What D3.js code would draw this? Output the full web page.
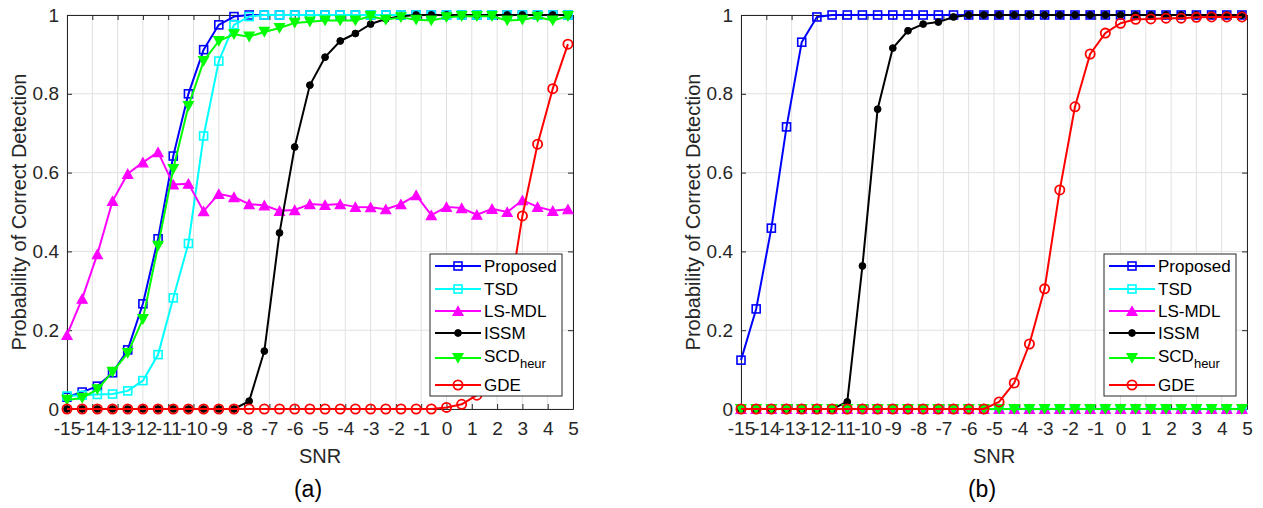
<!DOCTYPE html>
<html>
<head>
<meta charset="utf-8">
<script src="https://cdn.jsdelivr.net/npm/d3@7/dist/d3.min.js"></script>
<style>
  html, body { margin: 0; padding: 0; background: #fff; }
  svg { display: block; font-family: "Liberation Sans", Arial, Helvetica, sans-serif; }
</style>
</head>
<body>
<svg id="fig" width="1263" height="508"></svg>
<script>
// SNR grid (dB) shared by every curve
const snr = [-15, -14.4, -13.8, -13.2, -12.6, -12.0, -11.4, -10.8, -10.2, -9.6,
             -9.0, -8.4, -7.8, -7.2, -6.6, -6.0, -5.4, -4.8, -4.2, -3.6,
             -3.0, -2.4, -1.8, -1.2, -0.6, 0, 0.6, 1.2, 1.8, 2.4,
             3.0, 3.6, 4.2, 4.8];

const xTicks = [-15, -14, -13, -12, -11, -10, -9, -8, -7, -6, -5, -4, -3, -2, -1, 0, 1, 2, 3, 4, 5];
const yTicks = [0, 0.2, 0.4, 0.6, 0.8, 1];

const methodNames = ["Proposed", "TSD", "LS-MDL", "ISSM", "SCD", "GDE"];

// Scenario (a)
const proposedA = [0.030, 0.043, 0.058, 0.092, 0.150, 0.267, 0.432, 0.642, 0.800, 0.912,
                   0.975, 0.996, 1, 1, 1, 1, 1, 1, 1, 1,
                   1, 1, 1, 1, 1, 1, 1, 1, 1, 1,
                   1, 1, 1, 1];
const tsdA = [0.033, 0.035, 0.037, 0.038, 0.046, 0.072, 0.138, 0.282, 0.420, 0.693,
              0.883, 0.975, 0.996, 1, 1, 1, 1, 1, 1, 1,
              1, 1, 1, 1, 1, 1, 1, 1, 1, 1,
              1, 1, 1, 1];
const lsmdlA = [0.188, 0.280, 0.393, 0.528, 0.597, 0.626, 0.652, 0.570, 0.572, 0.502,
                0.546, 0.538, 0.520, 0.517, 0.503, 0.505, 0.520, 0.518, 0.520, 0.513,
                0.512, 0.507, 0.520, 0.543, 0.492, 0.513, 0.510, 0.493, 0.508, 0.500,
                0.530, 0.513, 0.503, 0.507];
const issmA = [0, 0, 0, 0, 0, 0, 0, 0, 0, 0,
               0, 0, 0.020, 0.147, 0.447, 0.665, 0.822, 0.893, 0.934, 0.953,
               0.977, 0.990, 0.997, 1, 1, 1, 1, 1, 1, 1,
               1, 1, 1, 1];
const scdA = [0.023, 0.028, 0.050, 0.094, 0.142, 0.228, 0.414, 0.609, 0.769, 0.883,
              0.934, 0.951, 0.945, 0.957, 0.967, 0.980, 0.983, 0.986, 0.986, 0.986,
              0.997, 0.988, 0.994, 0.988, 0.986, 0.994, 0.997, 0.997, 0.997, 0.986,
              0.988, 0.995, 0.986, 0.997];
const gdeA = [0, 0, 0, 0, 0, 0, 0, 0, 0, 0,
              0, 0, 0, 0, 0, 0, 0, 0, 0, 0,
              0, 0, 0, 0, 0, 0.004, 0.012, 0.035, 0.110, 0.250,
              0.490, 0.672, 0.813, 0.926];

// Scenario (b)
const proposedB = [0.124, 0.254, 0.459, 0.716, 0.931, 0.995, 1, 1, 1, 1,
                   1, 1, 1, 1, 1, 1, 1, 1, 1, 1,
                   1, 1, 1, 1, 1, 1, 1, 1, 1, 1,
                   1, 1, 1, 1];
const tsdB = [0, 0, 0, 0, 0, 0, 0, 0, 0, 0,
              0, 0, 0, 0, 0, 0, 0, 0, 0, 0,
              0, 0, 0, 0, 0, 0, 0, 0, 0, 0,
              0, 0, 0, 0];
const lsmdlB = [0, 0, 0, 0, 0, 0, 0, 0, 0, 0,
                0, 0, 0, 0, 0, 0, 0, 0, 0, 0,
                0, 0, 0, 0, 0, 0, 0, 0, 0, 0,
                0, 0, 0, 0];
const issmB = [0, 0, 0, 0, 0, 0, 0, 0.018, 0.363, 0.761,
               0.916, 0.960, 0.977, 0.982, 0.995, 1, 1, 1, 1, 1,
               1, 1, 1, 1, 1, 1, 1, 1, 1, 1,
               1, 1, 1, 1];
const scdB = [0, 0, 0, 0, 0, 0, 0, 0, 0, 0,
              0, 0, 0, 0, 0, 0, 0, 0, 0, 0,
              0, 0, 0, 0, 0, 0, 0, 0, 0, 0,
              0, 0, 0, 0];
const gdeB = [0, 0, 0, 0, 0, 0, 0, 0, 0, 0,
              0, 0, 0, 0, 0, 0, 0, 0.018, 0.066, 0.165,
              0.305, 0.556, 0.767, 0.901, 0.954, 0.979, 0.989, 0.990, 0.992, 0.992,
              0.994, 0.995, 0.995, 0.995];

// Line colour and marker per method (plotting order = legend order)
const styles = [
  { color: "#0000ff", marker: "square" },
  { color: "#00ffff", marker: "square" },
  { color: "#ff00ff", marker: "triUp" },
  { color: "#000000", marker: "dot" },
  { color: "#00ff00", marker: "triDown" },
  { color: "#ff0000", marker: "circle" }
];

const panels = [
  { left: 67,  label: "(a)", series: [proposedA, tsdA, lsmdlA, issmA, scdA, gdeA] },
  { left: 741, label: "(b)", series: [proposedB, tsdB, lsmdlB, issmB, scdB, gdeB] }
];

const plotW = 506, plotTop = 15, plotBottom = 409;
const axisColor = "#262626";
const svg = d3.select("#fig");

function drawMarker(g, type, color, cx, cy) {
  if (type === "square") {
    const s = 8;
    g.append("rect").attr("x", cx - s / 2).attr("y", cy - s / 2)
      .attr("width", s).attr("height", s)
      .attr("fill", "none").attr("stroke", color).attr("stroke-width", 1.6);
  } else if (type === "circle") {
    g.append("circle").attr("cx", cx).attr("cy", cy).attr("r", 4.6)
      .attr("fill", "none").attr("stroke", color).attr("stroke-width", 1.8);
  } else if (type === "dot") {
    g.append("circle").attr("cx", cx).attr("cy", cy).attr("r", 3.4)
      .attr("fill", color).attr("stroke", color).attr("stroke-width", 1);
  } else {
    const w = 10, h = 9;
    const dir = type === "triUp" ? -1 : 1;
    const pts = [[cx, cy + dir * h / 2], [cx - w / 2, cy - dir * h / 2], [cx + w / 2, cy - dir * h / 2]];
    g.append("path").attr("d", "M" + pts.map(p => p.join(",")).join("L") + "Z")
      .attr("fill", color).attr("stroke", color).attr("stroke-width", 1.2)
      .attr("stroke-linejoin", "miter");
  }
}

panels.forEach(p => {
  const x = d3.scaleLinear().domain([-15, 5]).range([p.left, p.left + plotW]);
  const y = d3.scaleLinear().domain([0, 1]).range([plotBottom, plotTop]);
  const g = svg.append("g");

  // grid
  const grid = g.append("g");
  grid.selectAll("line.vx").data(xTicks).join("line")
    .attr("x1", d => x(d)).attr("x2", d => x(d)).attr("y1", plotTop).attr("y2", plotBottom)
    .attr("stroke", "#e1e1e1").attr("stroke-width", 1);
  grid.selectAll("line.hy").data(yTicks).join("line")
    .attr("y1", d => y(d)).attr("y2", d => y(d)).attr("x1", x(-15)).attr("x2", x(5))
    .attr("stroke", "#e1e1e1").attr("stroke-width", 1);

  // axes (ticks inward, mirrored on top/right)
  const styleAxis = sel => {
    sel.select(".domain").attr("stroke", axisColor).attr("stroke-width", 1);
    sel.selectAll(".tick line").attr("stroke", axisColor).attr("stroke-width", 1);
    sel.selectAll(".tick text").attr("fill", axisColor)
      .style("font-size", "19px").style("font-family", "Liberation Sans, Arial, sans-serif");
  };
  g.append("g").attr("transform", `translate(0,${plotBottom})`)
    .call(d3.axisBottom(x).tickValues(xTicks).tickFormat(d3.format("d"))
      .tickSizeInner(-5).tickSizeOuter(0).tickPadding(12.5))
    .call(styleAxis);
  g.append("g").attr("transform", `translate(0,${plotTop})`)
    .call(d3.axisTop(x).tickValues(xTicks).tickFormat("")
      .tickSizeInner(-5).tickSizeOuter(0))
    .call(styleAxis);
  g.append("g").attr("transform", `translate(${x(-15)},0)`)
    .call(d3.axisLeft(y).tickValues(yTicks).tickFormat(d3.format("~g"))
      .tickSizeInner(-5).tickSizeOuter(0).tickPadding(8))
    .call(styleAxis);
  g.append("g").attr("transform", `translate(${x(5)},0)`)
    .call(d3.axisRight(y).tickValues(yTicks).tickFormat("")
      .tickSizeInner(-5).tickSizeOuter(0))
    .call(styleAxis);
  g.selectAll(".tick text").each(function () {
    const t = d3.select(this); t.text(t.text().replace("−", "-"));
  });

  // curves
  const line = d3.line().x((d, i) => x(snr[i])).y(d => y(d));
  p.series.forEach((vals, k) => {
    const st = styles[k];
    const sg = g.append("g");
    sg.append("path").attr("d", line(vals)).attr("fill", "none")
      .attr("stroke", st.color).attr("stroke-width", 2).attr("stroke-linejoin", "round");
    vals.forEach((v, i) => drawMarker(sg, st.marker, st.color, x(snr[i]), y(v)));
  });

  // axis labels
  g.append("text").attr("x", (x(-15) + x(5)) / 2).attr("y", 463)
    .attr("text-anchor", "middle").attr("fill", axisColor)
    .style("font-size", "20px").text("SNR");
  g.append("text")
    .attr("transform", `translate(${p.left - 41},${(plotTop + plotBottom) / 2}) rotate(-90)`)
    .attr("text-anchor", "middle").attr("fill", axisColor)
    .style("font-size", "20px").text("Probability of Correct Detection");
  g.append("text").attr("x", (x(-15) + x(5)) / 2 - 12).attr("y", 497)
    .attr("text-anchor", "middle").attr("fill", "#000")
    .style("font-size", "23px").text(p.label);

  // legend
  const lx = x(5) - 143, ly = 254, lw = 132, lh = 142;
  const lg = g.append("g");
  lg.append("rect").attr("x", lx).attr("y", ly).attr("width", lw).attr("height", lh)
    .attr("fill", "#fff").attr("stroke", axisColor).attr("stroke-width", 1);
  const rowY = [12, 35, 57, 79, 104, 131];
  methodNames.forEach((name, k) => {
    const st = styles[k];
    const yy = ly + rowY[k];
    lg.append("line").attr("x1", lx + 5).attr("x2", lx + 51).attr("y1", yy).attr("y2", yy)
      .attr("stroke", st.color).attr("stroke-width", 2);
    drawMarker(lg, st.marker, st.color, lx + 28, yy);
    const t = lg.append("text").attr("x", lx + 54).attr("y", yy + 6)
      .attr("fill", "#000").style("font-size", "17px").text(name);
    if (name === "SCD") {
      t.append("tspan").attr("dy", 6).style("font-size", "13px").text("heur");
      t.attr("y", yy + 4);
    }
  });
});
</script>
</body>
</html>
